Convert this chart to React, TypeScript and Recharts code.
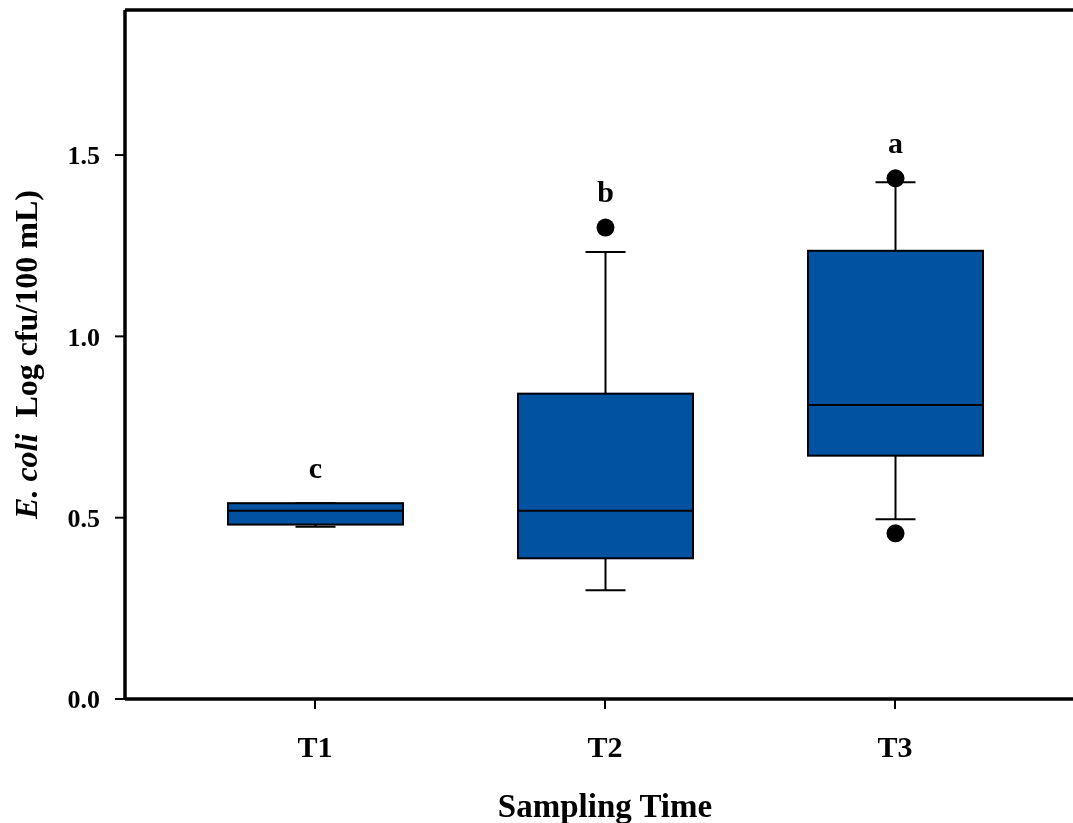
import React from "react";
import {
  ComposedChart,
  Bar,
  XAxis,
  YAxis,
  ReferenceLine,
} from "recharts";

// box plot statistics (log cfu/100 mL)
const categories = ["T1", "T2", "T3"];
const whiskerLow = [0.475, 0.3, 0.496];
const quartile1 = [0.481, 0.388, 0.671];
const medians = [0.519, 0.519, 0.811];
const quartile3 = [0.54, 0.842, 1.236];
const whiskerHigh = [0.54, 1.233, 1.425];
const outliers = [[], [1.3], [1.436, 0.457]];
const letters = ["c", "b", "a"];
const yTicks = [0, 0.5, 1.0, 1.5];

const FONT = "'Liberation Serif', 'Times New Roman', serif";
const BOX_FILL = "#0152A0";

const data = categories.map((name, i) => ({
  name,
  min: whiskerLow[i],
  q1: quartile1[i],
  median: medians[i],
  q3: quartile3[i],
  max: whiskerHigh[i],
  outliers: outliers[i],
  letter: letters[i],
}));

// Bar goes 0 -> q3, so its own height gives the pixel scale for the other stats
const BoxShape = (props: any) => {
  const { x, y, width, height, payload } = props;
  const unit = height / payload.q3;
  const base = y + height;
  const py = (v: number) => base - v * unit;
  const cx = x + width / 2;
  const cap = 20;
  const top = Math.min(py(payload.max), ...payload.outliers.map(py));

  return (
    <g>
      <line x1={cx} x2={cx} y1={py(payload.max)} y2={py(payload.q3)} stroke="#000" strokeWidth={2} />
      <line x1={cx} x2={cx} y1={py(payload.q1)} y2={py(payload.min)} stroke="#000" strokeWidth={2} />
      <line x1={cx - cap} x2={cx + cap} y1={py(payload.max)} y2={py(payload.max)} stroke="#000" strokeWidth={2} />
      <line x1={cx - cap} x2={cx + cap} y1={py(payload.min)} y2={py(payload.min)} stroke="#000" strokeWidth={2} />
      <rect
        x={x}
        y={py(payload.q3)}
        width={width}
        height={py(payload.q1) - py(payload.q3)}
        fill={BOX_FILL}
        stroke="#000"
        strokeWidth={2}
      />
      <line x1={x} x2={x + width} y1={py(payload.median)} y2={py(payload.median)} stroke="#000" strokeWidth={2} />
      {payload.outliers.map((v: number, k: number) => (
        <circle key={k} cx={cx} cy={py(v)} r={9} fill="#000" />
      ))}
      <text
        x={cx}
        y={top - 36}
        textAnchor="middle"
        dominantBaseline="central"
        fontFamily={FONT}
        fontWeight="bold"
        fontSize={30}
        fill="#000"
      >
        {payload.letter}
      </text>
    </g>
  );
};

const YLabel = (props: any) => {
  const vb = props.viewBox || { x: 0, y: 0, height: 689 };
  const x = vb.x + 29;
  const y = vb.y + vb.height / 2;
  return (
    <text
      x={x}
      y={y}
      transform={`rotate(-90, ${x}, ${y})`}
      textAnchor="middle"
      fontFamily={FONT}
      fontWeight="bold"
      fontSize={32}
      fill="#000"
    >
      <tspan fontStyle="italic">E. coli</tspan>
      <tspan>{"\u00a0\u00a0Log cfu/100 mL)"}</tspan>
    </text>
  );
};

const App: React.FC = () => {
  // fixed box so the plot frame running past the right edge never makes the page scroll
  return (
    <div
      style={{
        position: "fixed",
        left: 8,
        top: 8,
        width: 1065,
        height: 815,
        overflow: "hidden",
      }}
    >
      <ComposedChart
        width={1077}
        height={815}
        data={data}
        margin={{ top: 2, right: 0, left: 0, bottom: 0 }}
      >
        <XAxis
          dataKey="name"
          type="category"
          padding={{ left: 45, right: 45 }}
          height={124}
          axisLine={{ stroke: "#000", strokeWidth: 3.5 }}
          tickLine={{ stroke: "#000", strokeWidth: 2 }}
          tickSize={10}
          tickMargin={27}
          tick={{ fontSize: 30, fontWeight: "bold", fill: "#000", fontFamily: FONT }}
          label={{
            value: "Sampling Time",
            position: "insideBottom",
            offset: 6,
            style: { fontSize: 33, fontWeight: "bold", fill: "#000", fontFamily: FONT },
          }}
        />
        <YAxis
          width={117}
          domain={[0, 1.9]}
          ticks={yTicks}
          allowDataOverflow
          tickFormatter={(v: number) => v.toFixed(1)}
          axisLine={{ stroke: "#000", strokeWidth: 3.5 }}
          tickLine={{ stroke: "#000", strokeWidth: 2 }}
          tickSize={10}
          tickMargin={15}
          tick={{ fontSize: 26, fontWeight: "bold", fill: "#000", fontFamily: FONT }}
          label={(p: any) => <YLabel {...p} />}
        />
        <ReferenceLine y={1.9} stroke="#000" strokeWidth={3.5} ifOverflow="visible" />
        <Bar dataKey="q3" barSize={175} shape={<BoxShape />} isAnimationActive={false} />
      </ComposedChart>
    </div>
  );
};

export default App;
